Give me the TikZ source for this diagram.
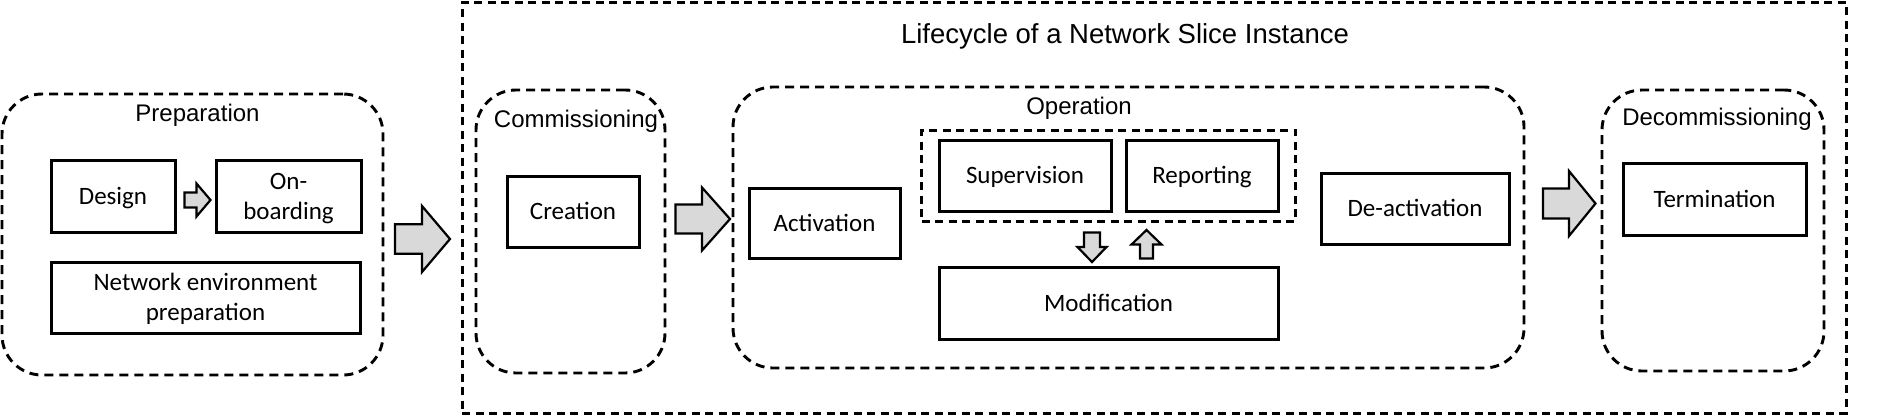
\documentclass[tikz,border=0pt]{standalone}
\usepackage{fontspec}
\setmainfont{Carlito}
\newfontfamily\headfont{Liberation Sans}
\usepackage{tikz}
\usetikzlibrary{calc}
\usetikzlibrary{positioning}
\usetikzlibrary{fit}
\definecolor{arrowfill}{RGB}{217,217,217}
\tikzset{%
    fatarrow/.style n args={3}{draw=black,fill=arrowfill,line width=2.2pt,line join=miter,
      to path={(\tikztostart) coordinate (fs) (\tikztotarget) coordinate (ft)
        ($(ft)!#3pt!(fs)$) coordinate (fb)
        ($(fs)!#1pt!90:(ft)$) -- ($(fb)!#1pt!90:(ft)$) -- ($(fb)!#2pt!90:(ft)$) -- (ft)
        -- ($(fb)!#2pt!-90:(ft)$) -- ($(fb)!#1pt!-90:(ft)$) -- ($(fs)!#1pt!-90:(ft)$) -- cycle}},
}

\begin{document}
\begin{tikzpicture}[x=1pt,y=-1pt,
  stage node/.style={draw,dash pattern=on 9pt off 6pt,line width=2.9pt,rounded corners=40pt,inner sep=0pt,outer sep=0pt},
  group node/.style={draw,dash pattern=on 8pt off 5.5pt,line width=3pt,sharp corners,inner sep=0pt,outer sep=0pt},
  task node/.style={rectangle,draw,line width=3pt,inner sep=0pt,outer sep=0pt,align=center,text=black,
    text height=18pt,text depth=2pt,font=\fontsize{25}{30}\selectfont},
  two line/.style={text height=48pt},
  stage title/.style={anchor=north,inner sep=0pt,font=\headfont\fontsize{24}{28}\selectfont}]

  \useasboundingbox (0,0) rectangle (1894,416);

  % the stages
  \node[group node,minimum width=1384pt,minimum height=411pt] (lcyc) at (1154,207.5) {};
  \node[stage title,font=\headfont\fontsize{27.5}{30}\selectfont] (lcyctitle) at ([xshift=-29pt,yshift=-21pt]lcyc.north) {Lifecycle of a Network Slice Instance};
  \node[stage node,minimum width=381pt,minimum height=281pt] (prep) at (192.5,234.5) {};
  \node[stage title] (preptitle) at ([xshift=5pt,yshift=-10pt]prep.north) {Preparation};
  \node[stage node,minimum width=189pt,minimum height=283pt] (comm) at (570.5,231.5) {};
  \node[stage title] (commtitle) at ([xshift=5.5pt,yshift=-20pt]comm.north) {Commissioning};
  \node[stage node,minimum width=791pt,minimum height=281pt] (oper) at (1128.5,227.5) {};
  \node[stage title] (opertitle) at ([xshift=-49.5pt,yshift=-10pt]oper.north) {Operation};
  \node[stage node,minimum width=222pt,minimum height=281pt] (decomm) at (1713,230.5) {};
  \node[stage title] (decommtitle) at ([xshift=4pt,yshift=-18pt]decomm.north) {Decommissioning};

  % preparation
  \node[task node,minimum width=124pt,minimum height=72pt] (design) at (113,196) {Design};
  \node[task node,two line,minimum width=145pt,minimum height=72pt,right=41pt of design] (onboard) {On-\\boarding};
  \node[task node,two line,minimum width=309pt,minimum height=71pt,below=30pt of design.south west,anchor=north west] (netenv) {Network environment\\preparation};

  % commissioning and operation
  \node[task node,minimum width=132pt,minimum height=71pt] (creation) at (573,211.5) {Creation};
  \node[task node,minimum width=151pt,minimum height=70pt] (activation) at (824.5,223) {Activation};
  \node[task node,minimum width=172pt,minimum height=71pt] (superv) at (1025,175.5) {Supervision};
  \node[task node,minimum width=152pt,minimum height=71pt,right=15pt of superv] (report) {Reporting};
  \node[group node,fit=(superv)(report),inner xsep=17.5pt,inner ysep=10pt] (inner) {};
  \node[task node,minimum width=339pt,minimum height=72pt,below=56pt of superv.south west,anchor=north west] (modif) {Modification};
  \node[task node,minimum width=188pt,minimum height=71pt] (deact) at (1415,208.5) {De-activation};

  % decommissioning
  \node[task node,minimum width=183pt,minimum height=72pt] (term) at (1714.5,199) {Termination};

  % block arrows
  \draw[fatarrow={7.5}{16.5}{14}] ($(design.east)+(9.5,4)$) to ($(onboard.west)+(-5.5,4)$);
  \draw[fatarrow={14.8}{33}{28}] ($(prep.east)+(12,4.5)$) to ($(prep.east -| lcyc.west)+(-12,4.5)$);
  \draw[fatarrow={14.5}{31.5}{28}] ($(creation.east -| comm.east)+(10.5,7.5)$) to ($(creation.east -| oper.west)+(-3,7.5)$);
  \draw[fatarrow={8}{14.5}{15}] ($(inner.south)+(-16.5,11.5)$) to ($(modif.north)+(-16.5,-5)$);
  \draw[fatarrow={6.5}{15}{14.5}] ($(modif.north)+(38,-8.5)$) to ($(inner.south)+(38,9)$);
  \draw[fatarrow={15}{32.5}{26.5}] ($(deact.east -| oper.east)+(19,-5)$) to ($(deact.east -| decomm.west)+(-6.5,-5)$);

\end{tikzpicture}
\end{document}
